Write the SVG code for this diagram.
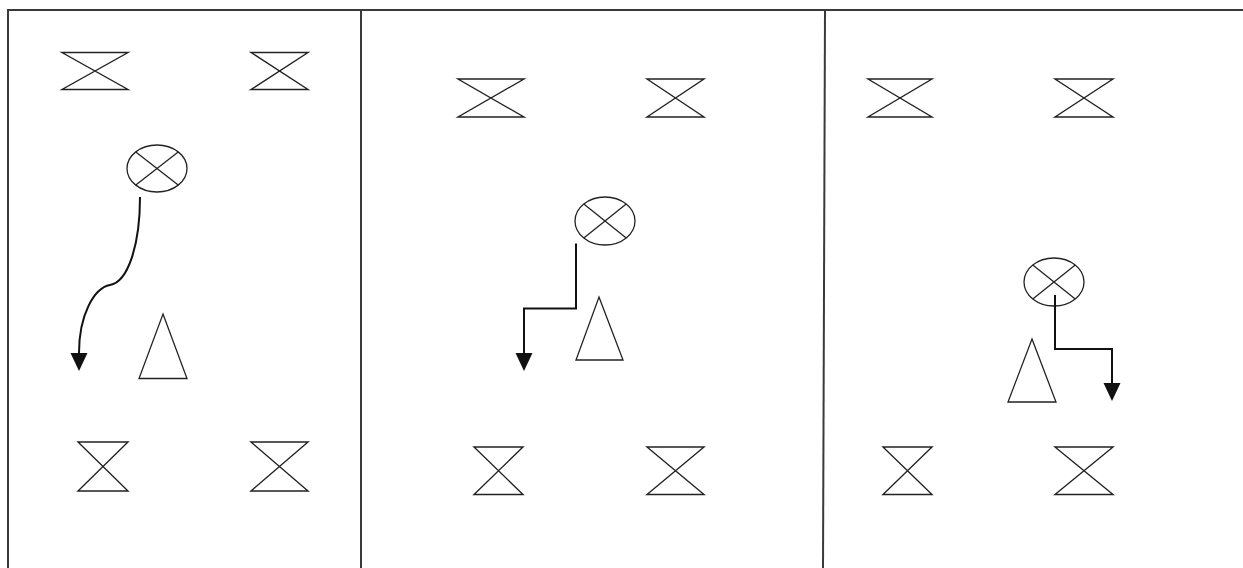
<svg xmlns="http://www.w3.org/2000/svg" width="1243" height="568" viewBox="0 0 1243 568">
<style>
.frame{stroke:#3a3a3a;stroke-width:2;fill:none}
.cone{fill:none;stroke:#222;stroke-width:1.4;stroke-linejoin:miter}
.player{fill:none;stroke:#222;stroke-width:1.3}
.def{fill:none;stroke:#222;stroke-width:1.3}
.move{fill:none;stroke:#111;stroke-width:2}
</style>
<defs>
<marker id="arr" markerUnits="userSpaceOnUse" markerWidth="18" markerHeight="18" refX="0" refY="8.5" orient="auto" overflow="visible">
<path d="M0,0 L18,8.5 L0,17 Z" fill="#111"/>
</marker>
</defs>
<rect width="1243" height="568" fill="#fff"/>
<g id="frame">
<line class="frame" x1="7" y1="10" x2="1243" y2="10"/>
<line class="frame" x1="8" y1="10" x2="8" y2="568"/>
<line class="frame" x1="361" y1="10" x2="361" y2="568"/>
<line class="frame" x1="825" y1="10" x2="823" y2="568"/>
</g>
<g id="panel1">
<polygon id="p1-cone-tl" class="cone" points="62,52.5 128,52.5 62,89.5 128,89.5"/>
<polygon id="p1-cone-tr" class="cone" points="251,52.5 308,52.5 251,89.5 308,89.5"/>
<polygon id="p1-cone-bl" class="cone" points="78,442 128,442 78,491 128,491"/>
<polygon id="p1-cone-br" class="cone" points="251,442 308,442 251,491 308,491"/>
<g id="p1-player" class="player"><ellipse cx="157" cy="168.5" rx="30" ry="23.5"/><line x1="135.8" y1="151.9" x2="178.2" y2="185.1"/><line x1="178.2" y1="151.9" x2="135.8" y2="185.1"/></g>
<polygon id="p1-defender" class="def" points="163,314 187,378.5 139,378.5"/>
</g>
<g id="panel2">
<polygon id="p2-cone-tl" class="cone" points="458,79 524,79 458,117 524,117"/>
<polygon id="p2-cone-tr" class="cone" points="647,79 704,79 647,117 704,117"/>
<polygon id="p2-cone-bl" class="cone" points="474,447 523,447 474,494.5 523,494.5"/>
<polygon id="p2-cone-br" class="cone" points="647,447 704,447 647,494.5 704,494.5"/>
<g id="p2-player" class="player"><ellipse cx="605" cy="221" rx="30" ry="24"/><line x1="583.8" y1="204" x2="626.2" y2="238"/><line x1="626.2" y1="204" x2="583.8" y2="238"/></g>
<polygon id="p2-defender" class="def" points="599,297 623,360 576,360"/>
</g>
<g id="panel3">
<polygon id="p3-cone-tl" class="cone" points="868,79 932,79 868,117 932,117"/>
<polygon id="p3-cone-tr" class="cone" points="1055,79 1113,79 1055,117 1113,117"/>
<polygon id="p3-cone-bl" class="cone" points="883,447 932,447 883,494.5 932,494.5"/>
<polygon id="p3-cone-br" class="cone" points="1055,447 1113,447 1055,494.5 1113,494.5"/>
<g id="p3-player" class="player"><ellipse cx="1054" cy="282" rx="30" ry="24"/><line x1="1032.8" y1="265" x2="1075.2" y2="299"/><line x1="1075.2" y1="265" x2="1032.8" y2="299"/></g>
<polygon id="p3-defender" class="def" points="1032,339 1056,402 1008,402"/>
</g>
<g id="connectors">
<path class="move" d="M140,197 C140,245 128,282 110,285 C94,288 79,315 79,353" marker-end="url(#arr)"/>
<path class="move" d="M576,243.5 V308.6 H524 V353" marker-end="url(#arr)"/>
<path class="move" d="M1055,295 V349 H1112 V383" marker-end="url(#arr)"/>
</g>
</svg>
